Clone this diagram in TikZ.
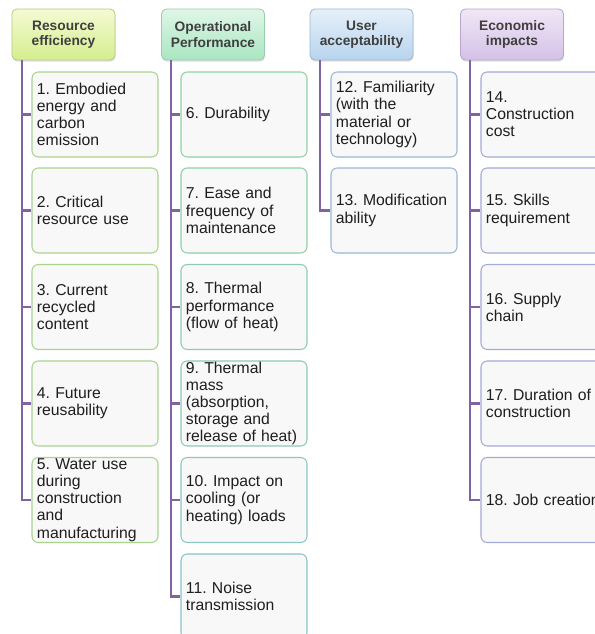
\documentclass[tikz,border=0pt]{standalone}
\usepackage{fontspec}
\setmainfont{Liberation Sans}
\usetikzlibrary{shadows,calc}
\usepackage{xcolor}
\definecolor{Link}{HTML}{8064A2}
\definecolor{HeadInk}{HTML}{3F3F3F}
\definecolor{LeafInk}{HTML}{1E1E1E}
\definecolor{LeafFill}{HTML}{F8F8F8}
\definecolor{ResTop}{HTML}{F4FAD4}
\definecolor{ResBot}{HTML}{D5EE8E}
\definecolor{ResEdge}{HTML}{B9CC86}
\definecolor{ResLine}{HTML}{A9D48E}
\definecolor{OpTop}{HTML}{E0F6E8}
\definecolor{OpBot}{HTML}{A9E6C1}
\definecolor{OpEdge}{HTML}{9CCCAE}
\definecolor{OpLineA}{HTML}{8FD3A1}
\definecolor{OpLineB}{HTML}{8CC1CC}
\definecolor{UsTop}{HTML}{E6F0F9}
\definecolor{UsBot}{HTML}{B7D4EE}
\definecolor{UsEdge}{HTML}{A0B9D3}
\definecolor{UsLine}{HTML}{99B6D6}
\definecolor{EcTop}{HTML}{F0E7F6}
\definecolor{EcBot}{HTML}{D4C1E7}
\definecolor{EcEdge}{HTML}{B9A7CC}
\definecolor{EcLine}{HTML}{A4AAD8}
\frenchspacing
\hyphenpenalty=10000
\exhyphenpenalty=10000

\begin{document}
\begin{tikzpicture}[x=1cm,y=1cm,
  hdr/.style={rectangle,rounded corners=3.5pt,minimum width=2.575cm,minimum height=1.275cm,
    inner sep=0pt,text width=2.4cm,align=center,line width=0.6pt,text=HeadInk,
    font=\fontsize{9.8}{10.8}\selectfont\bfseries,
    drop shadow={opacity=0.25,shadow xshift=0.4pt,shadow yshift=-1.2pt}},
  leaf/.style={rectangle,rounded corners=4.5pt,minimum width=3.15cm,minimum height=2.125cm,
    inner xsep=3.5pt,inner ysep=0pt,text width=3.15cm-7pt,align=left,fill=LeafFill,
    line width=0.75pt,text=LeafInk,font=\fontsize{11.2}{12.2}\selectfont},
  link/.style={draw=Link,line width=1.5pt}]
\useasboundingbox (0,0) rectangle (14.875,15.85);
\fill[white] (0,0) rectangle (14.875,15.85);
\clip (0,0) rectangle (14.875,15.85);

% column heads
\node[hdr,draw=ResEdge,top color=ResTop,bottom color=ResBot] (res) at (1.5875,14.9875) {Resource\\efficiency};
\node[hdr,draw=OpEdge,top color=OpTop,bottom color=OpBot] (ops) at (5.325,14.9875) {Operational\\Performance};
\node[hdr,draw=UsEdge,top color=UsTop,bottom color=UsBot] (usr) at (9.0375,14.9875) {User\\acceptability};
\node[hdr,draw=EcEdge,top color=EcTop,bottom color=EcBot] (eco) at (12.8,14.9875) {Economic\\impacts};

% resource efficiency
\node[leaf,draw=ResLine] (c1) at (2.375,12.9875) {1. Embodied\\energy and\\carbon\\emission};
\node[leaf,draw=ResLine] (c2) at (2.375,10.5875) {2. Critical\\resource use};
\node[leaf,draw=ResLine] (c3) at (2.375,8.175) {3. Current\\recycled\\content};
\node[leaf,draw=ResLine] (c4) at (2.375,5.7625) {4. Future\\reusability};
\node[leaf,draw=ResLine] (c5) at (2.375,3.35) {5. Water use\\during\\construction\\and\\manufacturing};

% operational performance
\node[leaf,draw=OpLineA] (c6) at (6.1,12.9875) {6. Durability};
\node[leaf,draw=OpLineA!80!OpLineB] (c7) at (6.1,10.5875) {7. Ease and\\frequency of\\maintenance};
\node[leaf,draw=OpLineA!60!OpLineB] (c8) at (6.1,8.175) {8. Thermal\\performance\\(flow of heat)};
\node[leaf,draw=OpLineA!40!OpLineB] (c9) at (6.1,5.7625) {9. Thermal\\mass\\(absorption,\\storage and\\release of heat)};
\node[leaf,draw=OpLineA!20!OpLineB] (c10) at (6.1,3.35) {10. Impact on\\cooling (or\\heating) loads};
\node[leaf,draw=OpLineB] (c11) at (6.1,0.9375) {11. Noise\\transmission};

% user acceptability
\node[leaf,draw=UsLine] (c12) at (9.85,12.9875) {12. Familiarity\\(with the\\material or\\technology)};
\node[leaf,draw=UsLine] (c13) at (9.85,10.5875) {13. Modification\\ability};

% economic impacts
\node[leaf,draw=EcLine] (c14) at (13.6,12.9875) {14.\\Construction\\cost};
\node[leaf,draw=EcLine] (c15) at (13.6,10.5875) {15. Skills\\requirement};
\node[leaf,draw=EcLine] (c16) at (13.6,8.175) {16. Supply\\chain};
\node[leaf,draw=EcLine] (c17) at (13.6,5.7625) {17. Duration of\\construction};
\node[leaf,draw=EcLine] (c18) at (13.6,3.35) {18. Job creation};

% connectors
\coordinate (resroot) at ([xshift=0.25cm]res.south west);
\coordinate (opsroot) at ([xshift=0.25cm]ops.south west);
\coordinate (usrroot) at ([xshift=0.25cm]usr.south west);
\coordinate (ecoroot) at ([xshift=0.25cm]eco.south west);
\draw[link] (resroot) |- (c1.west);
\draw[link] (resroot) |- (c2.west);
\draw[link] (resroot) |- (c3.west);
\draw[link] (resroot) |- (c4.west);
\draw[link] (resroot) |- (c5.west);
\draw[link] (opsroot) |- (c6.west);
\draw[link] (opsroot) |- (c7.west);
\draw[link] (opsroot) |- (c8.west);
\draw[link] (opsroot) |- (c9.west);
\draw[link] (opsroot) |- (c10.west);
\draw[link] (opsroot) |- (c11.west);
\draw[link] (usrroot) |- (c12.west);
\draw[link] (usrroot) |- (c13.west);
\draw[link] (ecoroot) |- (c14.west);
\draw[link] (ecoroot) |- (c15.west);
\draw[link] (ecoroot) |- (c16.west);
\draw[link] (ecoroot) |- (c17.west);
\draw[link] (ecoroot) |- (c18.west);
\end{tikzpicture}
\end{document}
